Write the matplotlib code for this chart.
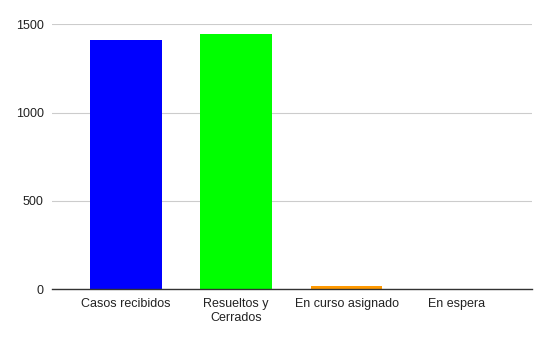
import matplotlib.pyplot as plt

categorias = ['Casos recibidos', 'Resueltos y\nCerrados', 'En curso asignado', 'En espera']
valores = [1413, 1443, 18, 0]
colores = ['#0000ff', '#00ff00', '#ff9900', '#999999']
yticks = [0, 500, 1000, 1500]

plt.rcParams['font.family'] = ['Liberation Sans', 'DejaVu Sans']

fig = plt.figure(figsize=(5.49, 3.4), dpi=100)
ax = fig.add_axes([0.0947, 0.149, 0.874, 0.7795])

x = list(range(len(categorias)))
ax.bar(x, valores, width=0.65, color=colores, zorder=3)

ax.set_xlim(-0.67, 3.68)
ax.set_ylim(0, 1500)
ax.set_yticks(yticks)
ax.set_yticklabels([str(v) for v in yticks], fontsize=9, color='#222222')
ax.set_xticks(x)
ax.set_xticklabels(categorias, fontsize=9, color='#222222', linespacing=1.25)

ax.grid(axis='y', color='#cccccc', linewidth=0.8, zorder=0)
for s in ['top', 'right', 'left']:
    ax.spines[s].set_visible(False)
ax.spines['bottom'].set_color('#333333')
ax.spines['bottom'].set_linewidth(1.0)
ax.spines['bottom'].set_zorder(4)
ax.tick_params(axis='both', length=0, pad=6)

fig.savefig('out.png', dpi=100)
